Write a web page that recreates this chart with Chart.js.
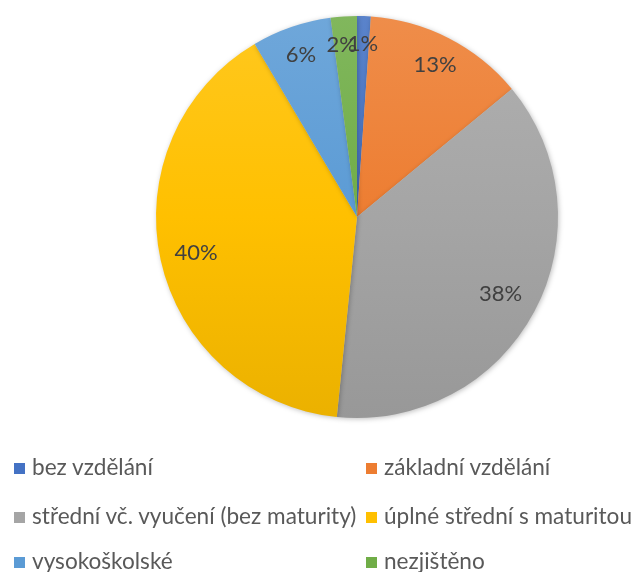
<!DOCTYPE html>
<html>
<head>
<meta charset="utf-8">
<script src="https://cdn.jsdelivr.net/npm/chart.js@4/dist/chart.umd.min.js"></script>
<style>
  html, body { margin: 0; padding: 0; background: #fff; }
  #wrap { position: relative; width: 633px; height: 572px; }
  #chart { position: absolute; left: 0; top: 0; }
  .leg { position: absolute; font-family: Lato, "Noto Sans", sans-serif; font-size: 22.6px; line-height: 26px; color: #595959; white-space: nowrap; }
  .leg span.box { display: inline-block; width: 11px; height: 11px; margin-right: 7px; vertical-align: 1px; }
</style>
</head>
<body>
<div id="wrap">
  <canvas id="chart" width="633" height="572"></canvas>
</div>
<script>
// data
const categories = ['bez vzdělání', 'základní vzdělání', 'střední vč. vyučení (bez maturity)', 'úplné střední s maturitou', 'vysokoškolské', 'nezjištěno'];
const values = [1.1, 12.9, 37.6, 39.9, 6.4, 2.1];
const colors = ['#4472C4', '#ED7D31', '#A5A5A5', '#FFC000', '#5B9BD5', '#70AD47'];

// legend positions (2 columns)
const legendPos = [[14, 454], [366, 454], [14, 503], [366, 503], [14, 548], [366, 548]];

function shade(hex, amt) {
    const n = parseInt(hex.slice(1), 16);
    let r = n >> 16, g = (n >> 8) & 255, b = n & 255;
    const f = c => Math.max(0, Math.min(255, Math.round(amt > 0 ? c + (255 - c) * amt : c * (1 + amt))));
    return `rgb(${f(r)},${f(g)},${f(b)})`;
}

function gradientFill(context) {
    const chart = context.chart;
    const area = chart.chartArea;
    if (!area) return colors[context.dataIndex];
    const base = colors[context.dataIndex];
    const g = chart.ctx.createLinearGradient(0, area.top, 0, area.bottom);
    g.addColorStop(0, shade(base, 0.12));
    g.addColorStop(0.5, base);
    g.addColorStop(1, shade(base, -0.08));
    return g;
}

// labels drawn inside the slices
const pctLabels = {
    id: 'pctLabels',
    afterDatasetsDraw(chart) {
        const ctx = chart.ctx;
        const meta = chart.getDatasetMeta(0);
        const total = values.reduce((a, b) => a + b, 0);
        const rf = [0.86, 0.85, 0.81, 0.82, 0.855, 0.86];
        ctx.save();
        ctx.font = '22px Lato, "Noto Sans", sans-serif';
        ctx.fillStyle = '#404040';
        ctx.textAlign = 'center';
        ctx.textBaseline = 'middle';
        meta.data.forEach((arc, i) => {
            const mid = (arc.startAngle + arc.endAngle) / 2;
            const r = arc.outerRadius * rf[i];
            let x = arc.x + Math.cos(mid) * r;
            let y = arc.y + Math.sin(mid) * r;
            if (i === 5) x -= 4;
            ctx.fillText(Math.round(values[i] / total * 100) + '%', x, y);
        });
        ctx.restore();
    }
};

const pieShadow = {
    id: 'pieShadow',
    beforeDatasetsDraw(chart) {
        const ctx = chart.ctx;
        ctx.save();
        ctx.shadowColor = 'rgba(0,0,0,0.25)';
        ctx.shadowBlur = 5;
        ctx.shadowOffsetX = 1;
        ctx.shadowOffsetY = 1;
    },
    afterDatasetsDraw(chart) {
        chart.ctx.restore();
    }
};

new Chart(document.getElementById('chart'), {
    type: 'pie',
    data: {
        labels: categories,
        datasets: [{
            data: values,
            backgroundColor: gradientFill,
            borderWidth: 0
        }]
    },
    options: {
        responsive: false,
        animation: false,
        layout: { padding: { left: 156, right: 75, top: 16, bottom: 154 } },
        plugins: {
            legend: { display: false },
            tooltip: { enabled: false }
        }
    },
    plugins: [pieShadow, pctLabels]
});

// legend as html
const wrap = document.getElementById('wrap');
categories.forEach((name, i) => {
    const d = document.createElement('div');
    d.className = 'leg';
    d.style.left = legendPos[i][0] + 'px';
    d.style.top = legendPos[i][1] + 'px';
    d.innerHTML = `<span class="box" style="background:${colors[i]}"></span>${name}`;
    wrap.appendChild(d);
});
</script>
</body>
</html>
